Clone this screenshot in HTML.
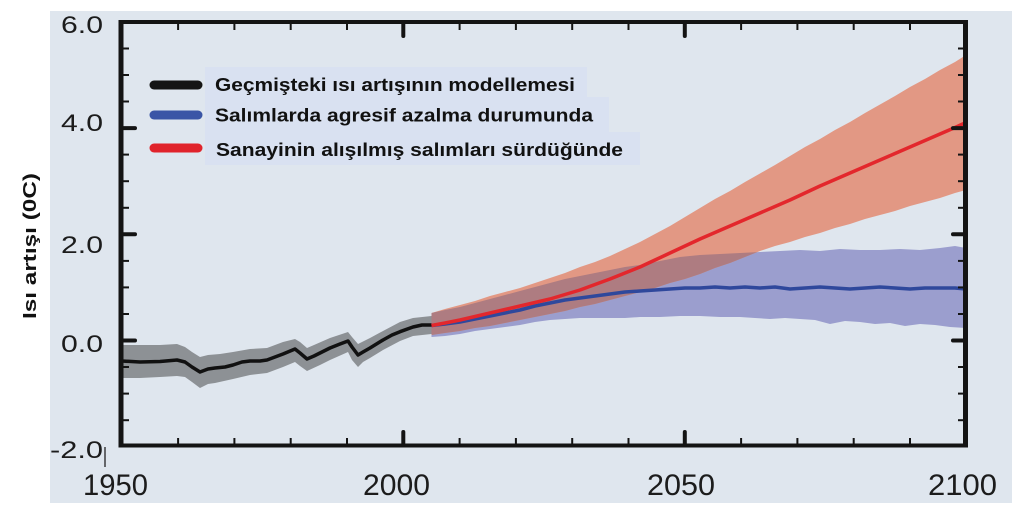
<!DOCTYPE html>
<html>
<head>
<meta charset="utf-8">
<style>
html,body{margin:0;padding:0;background:#ffffff;}
svg{display:block;}
text{font-family:"Liberation Sans",Arial,sans-serif;}
</style>
</head>
<body>
<svg width="1024" height="520" viewBox="0 0 1024 520" xmlns="http://www.w3.org/2000/svg">
  <defs>
    <clipPath id="cb">
      <path d="M431.5,313 L445,310 460,307 475,303 490,299 505,295 520,291 535,287 550,283 565,279 580,276 595,273 610,270 625,267 640,265 660,261 680,257 700,255 720,254 740,253 760,252 780,251 800,250 820,251 840,249 860,250 880,250 900,249 920,250 940,248 955,246 966,248 L966,328 950,327 935,325 920,324 905,326 890,323 875,324 860,322 845,321 830,324 815,320 800,319 785,318 770,319 755,318 740,317 720,317 700,316 680,316 660,317 640,317 625,318 610,318 595,318 580,318 565,319 550,320 535,322 520,325 505,327 490,329 475,331 460,334 445,336 431.5,337 Z"/>
    </clipPath>
  </defs>

  <!-- panel -->
  <rect x="50" y="11" width="962" height="492" fill="#dfe6ee"/>

  <!-- legend boxes -->
  <rect x="205" y="67" width="382" height="30" fill="#d9e1f1"/>
  <rect x="205" y="97" width="404" height="35" fill="#d9e1f1"/>
  <rect x="205" y="132" width="435" height="33" fill="#d9e1f1"/>

  <!-- historical grey band -->
  <path d="M122,345 L140,345 160,345 177,344 185,347 192,352 200,357 208,355 220,354 233,352 250,349 267,348 283,342 295,339 300,342 307,348 314,345 330,338 348,332 352,337 358,344 370,338 383,331 400,322 413,318 431.5,316 L431.5,334 413,336 400,341 383,350 370,358 363,362 358,367 352,360 348,352 330,360 320,365 307,371 300,366 295,362 283,367 267,373 250,375 233,379 215,383 208,384 200,388 192,382 185,377 177,376 160,377 140,378 122,378 Z" fill="#8d9195"/>
  <!-- historical black line -->
  <polyline points="122,361 140,362 160,361.5 177,360 185,362 192,367 200,372 208,369 215,368 225,367 233,365 242,362 250,361 260,361 267,360 275,357 283,354 295,349 300,353 307,359 314,356 320,353 330,348 340,344 348,341 352,347 358,355 363,352 370,348 383,340 392,335 400,331.7 413,327 422,325 431.5,325" fill="none" stroke="#111111" stroke-width="3.5" stroke-linejoin="round"/>

  <!-- blue band -->
  <path d="M431.5,313 L445,310 460,307 475,303 490,299 505,295 520,291 535,287 550,283 565,279 580,276 595,273 610,270 625,267 640,265 660,261 680,257 700,255 720,254 740,253 760,252 780,251 800,250 820,251 840,249 860,250 880,250 900,249 920,250 940,248 955,246 966,248 L966,328 950,327 935,325 920,324 905,326 890,323 875,324 860,322 845,321 830,324 815,320 800,319 785,318 770,319 755,318 740,317 720,317 700,316 680,316 660,317 640,317 625,318 610,318 595,318 580,318 565,319 550,320 535,322 520,325 505,327 490,329 475,331 460,334 445,336 431.5,337 Z" fill="#9b9ece"/>

  <!-- red band -->
  <path id="rb" d="M431.5,313 L445,309 460,305 475,301 490,296 505,292 520,288 535,283 550,278 565,273 580,267 595,262 610,256 625,249 640,242 655,234 670,226 685,217 700,208 715,199 730,191 745,182 760,173.5 775,165 790,156 805,147 820,139 835,130 850,122 865,113 880,104.5 895,96 910,87 925,79 940,70 955,62 966,55 L966,190 955,193 940,198 925,202 910,206 895,211 880,215 865,219 850,224 835,228 820,233 805,237 790,242 775,246 760,251 745,257 730,263 715,268 700,274 685,279 670,283 655,288 640,292 625,296 610,300 595,304 580,307 565,311 550,314 535,317 520,320 505,323 490,326 475,328 460,331 445,333 431.5,335 Z" fill="#e29884"/>
  <!-- overlap -->
  <path d="M431.5,313 L445,309 460,305 475,301 490,296 505,292 520,288 535,283 550,278 565,273 580,267 595,262 610,256 625,249 640,242 655,234 670,226 685,217 700,208 715,199 730,191 745,182 760,173.5 775,165 790,156 805,147 820,139 835,130 850,122 865,113 880,104.5 895,96 910,87 925,79 940,70 955,62 966,55 L966,190 955,193 940,198 925,202 910,206 895,211 880,215 865,219 850,224 835,228 820,233 805,237 790,242 775,246 760,251 745,257 730,263 715,268 700,274 685,279 670,283 655,288 640,292 625,296 610,300 595,304 580,307 565,311 550,314 535,317 520,320 505,323 490,326 475,328 460,331 445,333 431.5,335 Z" fill="#ae7c81" clip-path="url(#cb)"/>

  <!-- blue line -->
  <polyline points="431.5,325.5 445,324 460,322 475,319 490,316 505,313 520,310 535,306 550,303 565,300 580,298 595,296 610,294 625,292 640,291 655,290 670,289 685,288 700,288 715,287 730,288 745,287 760,288 775,287 790,289 805,288 820,287 835,288 850,289 865,288 880,287 895,288 910,289 925,288 940,288 955,288 966,289" fill="none" stroke="#2f489c" stroke-width="3.5" stroke-linejoin="round"/>
  <!-- red line -->
  <polyline points="431.5,325.5 445,323 460,320 475,316.5 490,313 505,309.5 520,306 535,302.5 550,299 565,294.5 580,290 595,284.5 610,279 625,273 640,267 655,260 670,253 685,246 700,239 715,232.5 730,226 745,219.5 760,213 775,206.5 790,200 805,193 820,186 835,179.5 850,173 865,166.5 880,160 895,153.5 910,147 925,140.5 940,134 955,127.5 966,122.5" fill="none" stroke="#e3272c" stroke-width="3.5" stroke-linejoin="round"/>

  <!-- axes frame -->
  <g stroke="#141414" fill="none">
    <line x1="121" y1="20" x2="121" y2="447.5" stroke-width="5"/>
    <line x1="965.5" y1="20" x2="965.5" y2="447.5" stroke-width="5"/>
    <line x1="119" y1="22" x2="968" y2="22" stroke-width="4"/>
    <line x1="119" y1="445.5" x2="968" y2="445.5" stroke-width="4"/>
  </g>

  <!-- left ticks -->
  <g stroke="#141414" stroke-width="2">
    <line x1="123" y1="48.5" x2="129" y2="48.5"/>
    <line x1="123" y1="75" x2="129" y2="75"/>
    <line x1="123" y1="101.5" x2="129" y2="101.5"/>
    <line x1="123" y1="154.6" x2="129" y2="154.6"/>
    <line x1="123" y1="181.2" x2="129" y2="181.2"/>
    <line x1="123" y1="207.8" x2="129" y2="207.8"/>
    <line x1="123" y1="260.9" x2="129" y2="260.9"/>
    <line x1="123" y1="287.4" x2="129" y2="287.4"/>
    <line x1="123" y1="314" x2="129" y2="314"/>
    <line x1="123" y1="367" x2="129" y2="367"/>
    <line x1="123" y1="393.6" x2="129" y2="393.6"/>
    <line x1="123" y1="420.2" x2="129" y2="420.2"/>
    <!-- right -->
    <line x1="958" y1="48.5" x2="964" y2="48.5"/>
    <line x1="958" y1="75" x2="964" y2="75"/>
    <line x1="958" y1="101.5" x2="964" y2="101.5"/>
    <line x1="958" y1="154.6" x2="964" y2="154.6"/>
    <line x1="958" y1="181.2" x2="964" y2="181.2"/>
    <line x1="958" y1="207.8" x2="964" y2="207.8"/>
    <line x1="958" y1="260.9" x2="964" y2="260.9"/>
    <line x1="958" y1="287.4" x2="964" y2="287.4"/>
    <line x1="958" y1="314" x2="964" y2="314"/>
    <line x1="958" y1="367" x2="964" y2="367"/>
    <line x1="958" y1="393.6" x2="964" y2="393.6"/>
    <line x1="958" y1="420.2" x2="964" y2="420.2"/>
    <!-- top minor -->
    <line x1="178.1" y1="23" x2="178.1" y2="30"/>
    <line x1="234.4" y1="23" x2="234.4" y2="30"/>
    <line x1="290.7" y1="23" x2="290.7" y2="30"/>
    <line x1="347" y1="23" x2="347" y2="30"/>
    <line x1="459.6" y1="23" x2="459.6" y2="30"/>
    <line x1="515.9" y1="23" x2="515.9" y2="30"/>
    <line x1="572.2" y1="23" x2="572.2" y2="30"/>
    <line x1="628.5" y1="23" x2="628.5" y2="30"/>
    <line x1="741.1" y1="23" x2="741.1" y2="30"/>
    <line x1="797.4" y1="23" x2="797.4" y2="30"/>
    <line x1="853.7" y1="23" x2="853.7" y2="30"/>
    <line x1="910" y1="23" x2="910" y2="30"/>
    <!-- bottom minor -->
    <line x1="178.1" y1="438" x2="178.1" y2="444"/>
    <line x1="234.4" y1="438" x2="234.4" y2="444"/>
    <line x1="290.7" y1="438" x2="290.7" y2="444"/>
    <line x1="347" y1="438" x2="347" y2="444"/>
    <line x1="459.6" y1="438" x2="459.6" y2="444"/>
    <line x1="515.9" y1="438" x2="515.9" y2="444"/>
    <line x1="572.2" y1="438" x2="572.2" y2="444"/>
    <line x1="628.5" y1="438" x2="628.5" y2="444"/>
    <line x1="741.1" y1="438" x2="741.1" y2="444"/>
    <line x1="797.4" y1="438" x2="797.4" y2="444"/>
    <line x1="853.7" y1="438" x2="853.7" y2="444"/>
    <line x1="910" y1="438" x2="910" y2="444"/>
  </g>
  <!-- major ticks -->
  <g stroke="#141414" stroke-width="4" stroke-linecap="round">
    <line x1="123" y1="128.1" x2="135" y2="128.1"/>
    <line x1="123" y1="234.3" x2="135" y2="234.3"/>
    <line x1="123" y1="340.5" x2="135" y2="340.5"/>
    <line x1="953" y1="128.1" x2="964" y2="128.1"/>
    <line x1="953" y1="234.3" x2="964" y2="234.3"/>
    <line x1="953" y1="340.5" x2="964" y2="340.5"/>
    <line x1="403.3" y1="24" x2="403.3" y2="36"/>
    <line x1="684.8" y1="24" x2="684.8" y2="36"/>
    <line x1="403.3" y1="432" x2="403.3" y2="444"/>
    <line x1="684.8" y1="432" x2="684.8" y2="444"/>
  </g>

  <!-- odd thin mark near -2.0 -->
  <line x1="105" y1="447" x2="105" y2="467" stroke="#222" stroke-width="1.3"/>

  <!-- y tick labels -->
  <g fill="#1c1c1c" font-size="24" text-anchor="start">
    <text x="61" y="33" textLength="42" lengthAdjust="spacingAndGlyphs">6.0</text>
    <text x="61" y="131" textLength="42" lengthAdjust="spacingAndGlyphs">4.0</text>
    <text x="61" y="253" textLength="42" lengthAdjust="spacingAndGlyphs">2.0</text>
    <text x="61" y="352" textLength="42" lengthAdjust="spacingAndGlyphs">0.0</text>
    <text x="50" y="458" textLength="53" lengthAdjust="spacingAndGlyphs">-2.0</text>
  </g>
  <!-- x tick labels -->
  <g fill="#1c1c1c" font-size="30">
    <text x="83" y="495" textLength="65" lengthAdjust="spacingAndGlyphs">1950</text>
    <text x="363" y="495" textLength="67" lengthAdjust="spacingAndGlyphs">2000</text>
    <text x="647" y="495" textLength="68" lengthAdjust="spacingAndGlyphs">2050</text>
    <text x="928" y="495" textLength="69" lengthAdjust="spacingAndGlyphs">2100</text>
  </g>

  <!-- y axis title -->
  <text transform="translate(36,319) rotate(-90)" font-size="18" font-weight="bold" fill="#111" textLength="146" lengthAdjust="spacingAndGlyphs">Isı artışı (0C)</text>

  <!-- legend -->
  <g stroke-width="9" stroke-linecap="round">
    <line x1="154" y1="85" x2="198" y2="85" stroke="#151515"/>
    <line x1="154" y1="115" x2="198" y2="115" stroke="#3a55a6"/>
    <line x1="154" y1="148" x2="198" y2="148" stroke="#e0232b"/>
  </g>
  <g fill="#111" font-size="18" font-weight="bold">
    <text x="215" y="91" textLength="360" lengthAdjust="spacingAndGlyphs">Geçmişteki ısı artışının modellemesi</text>
    <text x="215" y="121.5" textLength="378" lengthAdjust="spacingAndGlyphs">Salımlarda agresif azalma durumunda</text>
    <text x="216" y="156" textLength="407" lengthAdjust="spacingAndGlyphs">Sanayinin alışılmış salımları sürdüğünde</text>
  </g>
</svg>
</body>
</html>
